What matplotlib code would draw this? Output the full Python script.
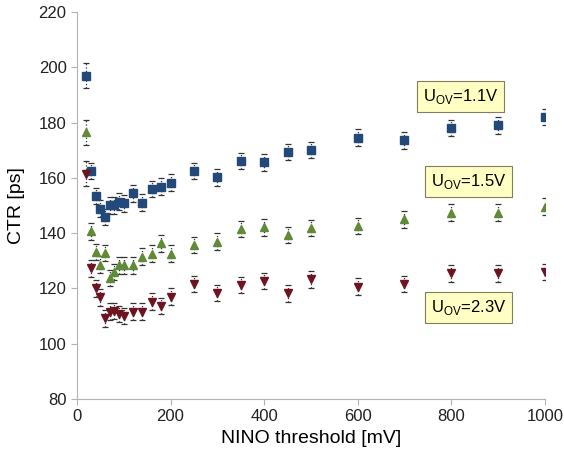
import matplotlib.pyplot as plt
import numpy as np

# NINO threshold [mV]
thr = np.array([20, 30, 40, 50, 60, 70, 80, 90, 100, 120, 140, 160, 180, 200,
                250, 300, 350, 400, 450, 500, 600, 700, 800, 900, 1000])

# CTR [ps] for each over-voltage
ctr_11 = np.array([197, 162.5, 153.5, 148.8, 145.8, 150, 150, 151.4, 150.8, 154.4,
                   151, 155.9, 156.8, 158.3, 162.5, 160.2, 166.1, 165.6, 169.3,
                   170, 174.5, 173.5, 178, 179, 182])
ctr_15 = np.array([176.5, 140.6, 133.2, 128.6, 132.8, 123.7, 125.9, 128.3, 128.3, 128.3,
                   131.5, 132.6, 136.3, 132.6, 135.7, 136.9, 141.5, 142.1, 139.3,
                   141.8, 142.6, 145, 147.4, 147.4, 149.6])
ctr_23 = np.array([161.5, 127.3, 120, 116.8, 109.2, 111.6, 111.9, 110.7, 110, 111.6,
                   111.6, 115.2, 113.6, 117, 121.6, 118.4, 121.2, 122.7, 118.2,
                   123.3, 120.6, 121.6, 125.5, 125.5, 126])
err = np.array([4.5] + [3.0] * (len(thr) - 1))

series = [
    (ctr_11, 's', '#22497a', 5.5, '1.1V', (820, 189.3)),
    (ctr_15, '^', '#5f8a36', 6, '1.5V', (837, 158.6)),
    (ctr_23, 'v', '#6e1420', 6, '2.3V', (837, 113)),
]

fig = plt.figure(figsize=(5.64, 4.59), dpi=100)
ax = fig.add_axes([0.1365, 0.1307, 0.8295, 0.8433])
plt.rcParams['font.family'] = ['Liberation Sans', 'DejaVu Sans']

for y, mk, col, ms, lab, pos in series:
    eb = ax.errorbar(thr, y, yerr=err, fmt=mk, ms=ms, mfc=col, mec=col,
                     ecolor='#333333', elinewidth=0.9, capsize=2, capthick=0.9)
    eb[-1][0].set_linestyle(':')
    ax.text(pos[0], pos[1], r'U$_{\mathregular{OV}}$=' + lab, fontsize=12,
            ha='center', va='center', family=['Liberation Sans', 'DejaVu Sans'],
            bbox=dict(boxstyle='square,pad=0.35', fc='#ffffc4', ec='#7f7f5a', lw=0.8))

ax.set_xlim(0, 1000)
ax.set_ylim(80, 220)
ax.set_xticks(np.arange(0, 1001, 200))
ax.set_yticks(np.arange(80, 221, 20))
ax.set_xlabel('NINO threshold [mV]', fontsize=14, family=['Liberation Sans'])
ax.set_ylabel('CTR [ps]', fontsize=14, family=['Liberation Sans'], labelpad=10)
for lbl in ax.get_xticklabels() + ax.get_yticklabels():
    lbl.set_fontsize(12)
    lbl.set_family(['Liberation Sans'])
    lbl.set_color('#222222')

for s in ['top', 'right']:
    ax.spines[s].set_visible(False)
for s in ['left', 'bottom']:
    ax.spines[s].set_color('#b3b3b3')
ax.tick_params(color='#b3b3b3', length=4)

fig.savefig('out.png', dpi=100)
